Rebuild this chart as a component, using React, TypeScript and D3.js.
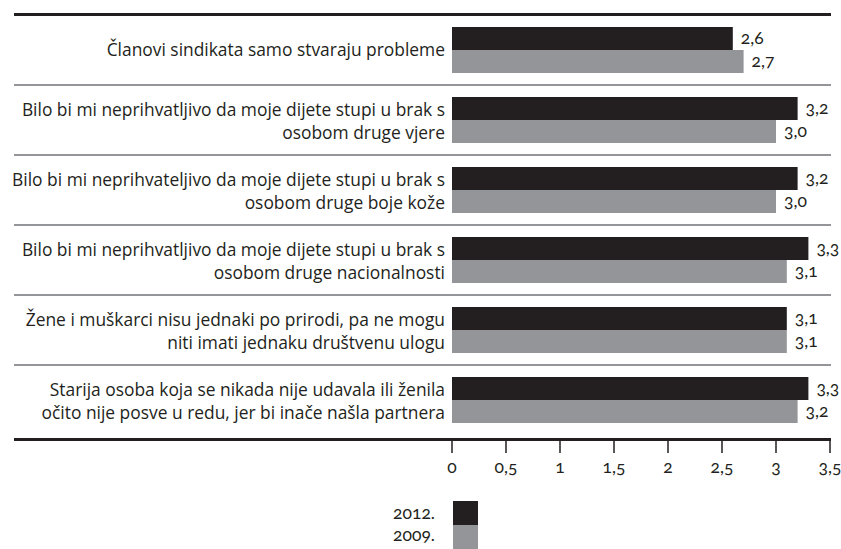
import React from "react";
import * as d3 from "d3";

const categories: string[][] = [
  ["Članovi sindikata samo stvaraju probleme"],
  ["Bilo bi mi neprihvatljivo da moje dijete stupi u brak s", "osobom druge vjere"],
  ["Bilo bi mi neprihvateljivo da moje dijete stupi u brak s", "osobom druge boje kože"],
  ["Bilo bi mi neprihvatljivo da moje dijete stupi u brak s", "osobom druge nacionalnosti"],
  ["Žene i muškarci nisu jednaki po prirodi, pa ne mogu", "niti imati jednaku društvenu ulogu"],
  ["Starija osoba koja se nikada nije udavala ili ženila", "očito nije posve u redu, jer bi inače našla partnera"],
];
const seriesNames = ["2012.", "2009."];
const values2012 = [2.6, 3.2, 3.2, 3.3, 3.1, 3.3];
const values2009 = [2.7, 3.0, 3.0, 3.1, 3.1, 3.2];
const ticks = [0, 0.5, 1, 1.5, 2, 2.5, 3, 3.5];

const DARK = "#231f20";
const GREY = "#939598";
const LABEL_FONT = "'Open Sans', Lato, sans-serif";
const NUM_FONT = "Lato, 'Open Sans', sans-serif";

const fmtTick = (v: number) => (Number.isInteger(v) ? String(v) : d3.format(".1f")(v)).replace(".", ",");
const fmtVal = (v: number) => d3.format(".1f")(v).replace(".", ",");

export default function App() {
  const W = 841, H = 549;
  const x = d3.scaleLinear().domain([0, 3.5]).range([452, 830]);
  const ids = categories.map((_, i) => String(i));
  const y0 = d3.scaleBand<string>().domain(ids).range([15, 435]).padding(0);
  const y1 = d3.scaleBand<string>().domain(seriesNames).range([12, 58]).padding(0);
  const series = [values2012, values2009];
  const colors = [DARK, GREY];
  const numStyle = { fontFamily: NUM_FONT, fontFeatureSettings: "'onum'" } as React.CSSProperties;

  return (
    <svg width={W} height={H} style={{ position: "absolute", left: 0, top: 0 }}>
      <rect width={W} height={H} fill="#fff" />
      <line x1={14} x2={831} y1={14.5} y2={14.5} stroke={DARK} strokeWidth={3} />
      {ids.slice(1).map((id) => (
        <line key={id} x1={14} x2={831} y1={y0(id)!} y2={y0(id)!} stroke={GREY} strokeWidth={2} />
      ))}
      {categories.map((lines, i) => {
        const c = y0(ids[i])! + y0.bandwidth() / 2;
        const base = lines.length === 1 ? [c + 5.5] : [c - 4, c + 18.5];
        return (
          <text key={i} textAnchor="end" fontSize={17.4} fill={DARK} style={{ fontFamily: LABEL_FONT }}>
            {lines.map((l, j) => (
              <tspan key={j} x={445} y={base[j]}>{l}</tspan>
            ))}
          </text>
        );
      })}
      {categories.map((_, i) =>
        seriesNames.map((s, k) => {
          const v = series[k][i];
          const yy = y0(ids[i])! + y1(s)!;
          return (
            <g key={`${i}-${k}`}>
              <rect x={x(0)} y={yy} width={x(v) - x(0)} height={y1.bandwidth()} fill={colors[k]} />
              <text x={x(v) + 8} y={yy + y1.bandwidth() / 2 + 5} fontSize={17.5} fill={DARK} style={numStyle}>{fmtVal(v)}</text>
            </g>
          );
        })
      )}
      <line x1={14} x2={831} y1={439.5} y2={439.5} stroke={DARK} strokeWidth={3} />
      {ticks.map((t) => (
        <g key={t}>
          <line x1={x(t)} x2={x(t)} y1={440} y2={453} stroke={DARK} strokeWidth={1.5} />
          <text x={x(t)} y={473} textAnchor="middle" fontSize={17.5} fill={DARK} style={numStyle}>{fmtTick(t)}</text>
        </g>
      ))}
      {seriesNames.map((s, k) => (
        <g key={s}>
          <rect x={453} y={501 + k * 24} width={25} height={24} fill={colors[k]} />
          <text x={435} y={519 + k * 22} textAnchor="end" fontSize={17.5} fill={DARK} style={numStyle}>{s}</text>
        </g>
      ))}
    </svg>
  );
}
